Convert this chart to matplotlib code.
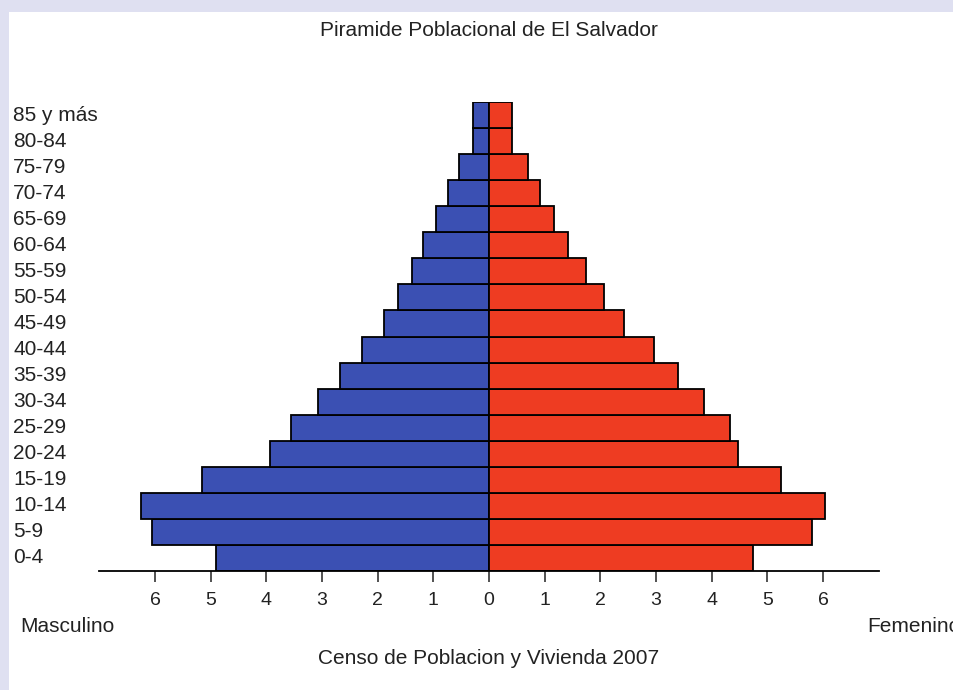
import matplotlib.pyplot as plt
from matplotlib.patches import Rectangle
import numpy as np

# grupos de edad (de abajo hacia arriba)
grupos = ['0-4', '5-9', '10-14', '15-19', '20-24', '25-29', '30-34', '35-39',
          '40-44', '45-49', '50-54', '55-59', '60-64', '65-69', '70-74',
          '75-79', '80-84', '85 y más']
# porcentaje de poblacion
masculino = [4.91, 6.06, 6.25, 5.16, 3.94, 3.56, 3.08, 2.68, 2.29, 1.89,
             1.64, 1.39, 1.18, 0.96, 0.74, 0.54, 0.29, 0.28]
femenino = [4.74, 5.81, 6.03, 5.25, 4.47, 4.33, 3.87, 3.40, 2.96, 2.43,
            2.07, 1.74, 1.42, 1.16, 0.92, 0.70, 0.41, 0.41]
ticks = [-6, -5, -4, -3, -2, -1, 0, 1, 2, 3, 4, 5, 6]

plt.rcParams['font.family'] = ['Liberation Sans', 'DejaVu Sans']
W, H = 954, 690
fig = plt.figure(figsize=(W / 100, H / 100), dpi=100, facecolor='#dfe0f1')
# panel blanco
fig.patches.append(Rectangle((9 / W, 0), 1, 1 - 12 / H, transform=fig.transFigure,
                             facecolor='white', edgecolor='none', zorder=-1))

ax = fig.add_axes([99.4 / W, 1 - 571 / H, (878.6 - 99.4) / W, (571 - 102) / H])
ax.set_zorder(2)
ax.set_facecolor('none')
y = np.arange(len(grupos))
ax.barh(y, -np.array(masculino), height=1, color='#3b50b3', edgecolor='black', linewidth=1.3)
ax.barh(y, femenino, height=1, color='#ee3c22', edgecolor='black', linewidth=1.3)

ax.set_xlim(-7, 7)
ax.set_ylim(-0.5, len(grupos) - 0.5)
ax.set_xticks(ticks)
ax.set_xticklabels([str(abs(t)) for t in ticks], fontsize=14, color='#222222')
ax.tick_params(axis='x', length=8, width=1.1, pad=7, colors='#222222')
ax.set_yticks([])
for s in ['top', 'right', 'left']:
    ax.spines[s].set_visible(False)
ax.spines['bottom'].set_linewidth(1.3)

# etiquetas de grupos, alineadas a la izquierda
for yi, g in zip(y, grupos):
    ax.annotate(g, xy=(0, yi), xycoords=('figure fraction', 'data'),
                xytext=(13, 0), textcoords='offset pixels',
                ha='left', va='center', fontsize=15, color='#222222',
                annotation_clip=False)

fig.text(489 / W, 1 - 30 / H, 'Piramide Poblacional de El Salvador',
         ha='center', va='center', fontsize=15, color='#222222')
fig.text(20 / W, 1 - 626 / H, 'Masculino', ha='left', va='center',
         fontsize=15, color='#222222')
fig.text(867 / W, 1 - 626 / H, 'Femenino', ha='left', va='center',
         fontsize=15, color='#222222')
fig.text(489 / W, 1 - 658 / H, 'Censo de Poblacion y Vivienda 2007',
         ha='center', va='center', fontsize=15, color='#222222')

fig.savefig('out.png', dpi=100, facecolor=fig.get_facecolor())
